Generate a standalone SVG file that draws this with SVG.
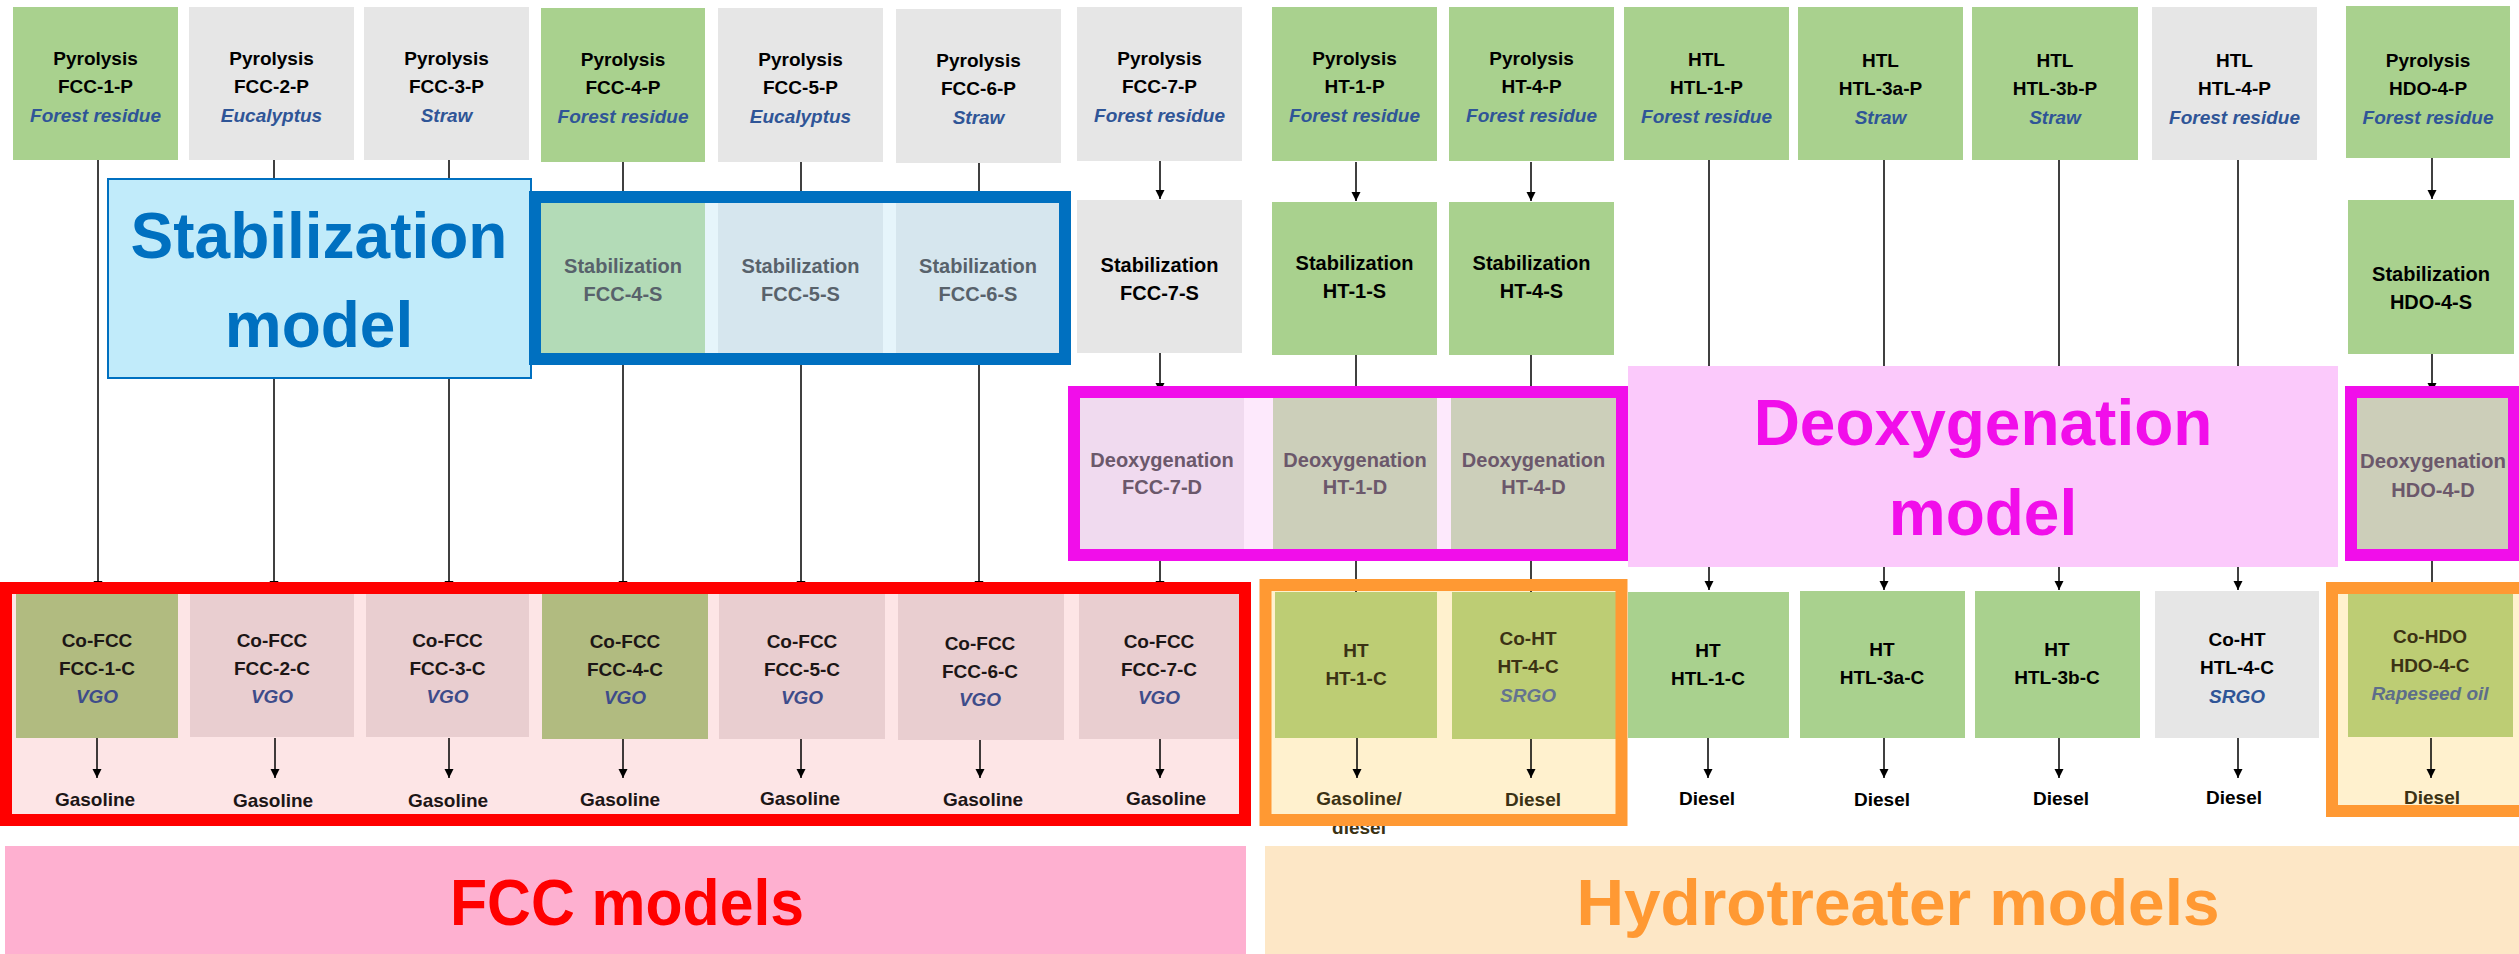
<svg xmlns="http://www.w3.org/2000/svg" width="2519" height="954" viewBox="0 0 2519 954">
<defs>
<marker id="ah" viewBox="0 0 10 10" refX="10" refY="5" markerWidth="9" markerHeight="10" markerUnits="userSpaceOnUse" orient="auto">
<path d="M0,0 L10,5 L0,10 z" fill="#000"/>
</marker>
<style>
text{font-family:"Liberation Sans",Arial,sans-serif;font-weight:bold;font-size:19px;text-anchor:middle;fill:#000}
.i{font-style:italic;fill:#2F5597}
.gn{fill:#A9D18E}
.gy{fill:#E6E6E6}
.m{font-size:20px}
.sg{fill:#58626B}
.dg{fill:#6B586B}
.rk{fill:#1C1616}
.vgo{font-style:italic;fill:#3E4C8A}
.ok{fill:#3B3214}
.ol{fill:#B1BB80}
.pk{fill:#E9CED0}
.ht{fill:#BDCD74}
.frame{fill:none;stroke-width:12}
.con line{stroke:#000;stroke-width:1.5}
.big{font-size:64px}
</style>
</defs>
<rect width="2519" height="954" fill="#FFFFFF"/>

<g id="banner-fcc">
<rect x="5" y="846" width="1241" height="108" fill="#FEB0D0"/>
<text x="627" y="925" style="font-size:64px;fill:#FF0000" textLength="354" lengthAdjust="spacingAndGlyphs">FCC models</text>
</g>
<g id="banner-ht">
<rect x="1265" y="846" width="1254" height="108" fill="#FDE7C6"/>
<text x="1898" y="925" style="font-size:64px;fill:#FF9933" textLength="643" lengthAdjust="spacingAndGlyphs">Hydrotreater models</text>
</g>

<g id="group-fills">
<rect x="535" y="197" width="530" height="162" fill="#E6F5FB"/>
<rect x="1074" y="392" width="548" height="163" fill="#FDE9FC"/>
<rect x="2351" y="392" width="163" height="163" fill="#FDE9FC"/>
<rect x="6" y="588" width="1239" height="232" fill="#FDE5E6"/>
<rect x="1265" y="585" width="356" height="235" fill="#FFF1CE"/>
<rect x="2332" y="588" width="193" height="223" fill="#FFF1CE"/>
</g>

<g id="connectors" class="con">
<line x1="98" y1="160" x2="98" y2="590" marker-end="url(#ah)"/>
<line x1="274" y1="160" x2="274" y2="590" marker-end="url(#ah)"/>
<line x1="449" y1="160" x2="449" y2="590" marker-end="url(#ah)"/>
<line x1="623" y1="162" x2="623" y2="590" marker-end="url(#ah)"/>
<line x1="801" y1="162" x2="801" y2="590" marker-end="url(#ah)"/>
<line x1="979" y1="163" x2="979" y2="590" marker-end="url(#ah)"/>
<line x1="1160" y1="161" x2="1160" y2="199" marker-end="url(#ah)"/>
<line x1="1160" y1="353" x2="1160" y2="392" marker-end="url(#ah)"/>
<line x1="1160" y1="549" x2="1160" y2="590" marker-end="url(#ah)"/>
<line x1="1356" y1="162" x2="1356" y2="201" marker-end="url(#ah)"/>
<line x1="1356" y1="355" x2="1356" y2="398"/>
<line x1="1356" y1="549" x2="1356" y2="592"/>
<line x1="1531" y1="162" x2="1531" y2="201" marker-end="url(#ah)"/>
<line x1="1531" y1="355" x2="1531" y2="398"/>
<line x1="1531" y1="549" x2="1531" y2="592"/>
<line x1="1709" y1="160" x2="1709" y2="590" marker-end="url(#ah)"/>
<line x1="1884" y1="160" x2="1884" y2="590" marker-end="url(#ah)"/>
<line x1="2059" y1="160" x2="2059" y2="590" marker-end="url(#ah)"/>
<line x1="2238" y1="160" x2="2238" y2="590" marker-end="url(#ah)"/>
<line x1="2432" y1="158" x2="2432" y2="199" marker-end="url(#ah)"/>
<line x1="2432" y1="354" x2="2432" y2="392" marker-end="url(#ah)"/>
<line x1="2432" y1="549" x2="2432" y2="594"/>
<line x1="97" y1="738" x2="97" y2="778" marker-end="url(#ah)"/>
<line x1="275" y1="738" x2="275" y2="778" marker-end="url(#ah)"/>
<line x1="449" y1="738" x2="449" y2="778" marker-end="url(#ah)"/>
<line x1="623" y1="738" x2="623" y2="778" marker-end="url(#ah)"/>
<line x1="801" y1="738" x2="801" y2="778" marker-end="url(#ah)"/>
<line x1="980" y1="738" x2="980" y2="778" marker-end="url(#ah)"/>
<line x1="1160" y1="738" x2="1160" y2="778" marker-end="url(#ah)"/>
<line x1="1357" y1="738" x2="1357" y2="778" marker-end="url(#ah)"/>
<line x1="1531" y1="738" x2="1531" y2="778" marker-end="url(#ah)"/>
<line x1="1708" y1="738" x2="1708" y2="778" marker-end="url(#ah)"/>
<line x1="1884" y1="738" x2="1884" y2="778" marker-end="url(#ah)"/>
<line x1="2059" y1="738" x2="2059" y2="778" marker-end="url(#ah)"/>
<line x1="2238" y1="738" x2="2238" y2="778" marker-end="url(#ah)"/>
<line x1="2431" y1="738" x2="2431" y2="778" marker-end="url(#ah)"/>
</g>

<g id="fcc-1-p"><rect class="gn" x="13" y="7" width="165" height="153"/><text x="95.5" y="65">Pyrolysis</text><text x="95.5" y="93">FCC-1-P</text><text class="i" x="95.5" y="122">Forest residue</text></g>
<g id="fcc-2-p"><rect class="gy" x="189" y="7" width="165" height="153"/><text x="271.5" y="65">Pyrolysis</text><text x="271.5" y="93">FCC-2-P</text><text class="i" x="271.5" y="122">Eucalyptus</text></g>
<g id="fcc-3-p"><rect class="gy" x="364" y="7" width="165" height="153"/><text x="446.5" y="65">Pyrolysis</text><text x="446.5" y="93">FCC-3-P</text><text class="i" x="446.5" y="122">Straw</text></g>
<g id="fcc-4-p"><rect class="gn" x="541" y="8" width="164" height="154"/><text x="623" y="66">Pyrolysis</text><text x="623" y="94">FCC-4-P</text><text class="i" x="623" y="123">Forest residue</text></g>
<g id="fcc-5-p"><rect class="gy" x="718" y="8" width="165" height="154"/><text x="800.5" y="66">Pyrolysis</text><text x="800.5" y="94">FCC-5-P</text><text class="i" x="800.5" y="123">Eucalyptus</text></g>
<g id="fcc-6-p"><rect class="gy" x="896" y="9" width="165" height="154"/><text x="978.5" y="67">Pyrolysis</text><text x="978.5" y="95">FCC-6-P</text><text class="i" x="978.5" y="124">Straw</text></g>
<g id="fcc-7-p"><rect class="gy" x="1077" y="7" width="165" height="154"/><text x="1159.5" y="65">Pyrolysis</text><text x="1159.5" y="93">FCC-7-P</text><text class="i" x="1159.5" y="122">Forest residue</text></g>
<g id="ht-1-p"><rect class="gn" x="1272" y="7" width="165" height="154"/><text x="1354.5" y="65">Pyrolysis</text><text x="1354.5" y="93">HT-1-P</text><text class="i" x="1354.5" y="122">Forest residue</text></g>
<g id="ht-4-p"><rect class="gn" x="1449" y="7" width="165" height="154"/><text x="1531.5" y="65">Pyrolysis</text><text x="1531.5" y="93">HT-4-P</text><text class="i" x="1531.5" y="122">Forest residue</text></g>
<g id="htl-1-p"><rect class="gn" x="1624" y="7" width="165" height="153"/><text x="1706.5" y="66">HTL</text><text x="1706.5" y="94">HTL-1-P</text><text class="i" x="1706.5" y="123">Forest residue</text></g>
<g id="htl-3a-p"><rect class="gn" x="1798" y="7" width="165" height="153"/><text x="1880.5" y="67">HTL</text><text x="1880.5" y="95">HTL-3a-P</text><text class="i" x="1880.5" y="124">Straw</text></g>
<g id="htl-3b-p"><rect class="gn" x="1972" y="7" width="166" height="153"/><text x="2055" y="67">HTL</text><text x="2055" y="95">HTL-3b-P</text><text class="i" x="2055" y="124">Straw</text></g>
<g id="htl-4-p"><rect class="gy" x="2152" y="7" width="165" height="153"/><text x="2234.5" y="67">HTL</text><text x="2234.5" y="95">HTL-4-P</text><text class="i" x="2234.5" y="124">Forest residue</text></g>
<g id="hdo-4-p"><rect class="gn" x="2346" y="6" width="164" height="152"/><text x="2428" y="67">Pyrolysis</text><text x="2428" y="95">HDO-4-P</text><text class="i" x="2428" y="124">Forest residue</text></g>

<g id="fcc-4-s"><rect x="541" y="202" width="164" height="151" fill="#B3DBB7"/><text class="m sg" x="623" y="273">Stabilization</text><text class="m sg" x="623" y="301">FCC-4-S</text></g>
<g id="fcc-5-s"><rect x="718" y="202" width="165" height="151" fill="#D6E6EE"/><text class="m sg" x="800.5" y="273">Stabilization</text><text class="m sg" x="800.5" y="301">FCC-5-S</text></g>
<g id="fcc-6-s"><rect x="896" y="202" width="164" height="151" fill="#D6E6EE"/><text class="m sg" x="978" y="273">Stabilization</text><text class="m sg" x="978" y="301">FCC-6-S</text></g>
<g id="fcc-7-s"><rect class="gy" x="1077" y="200" width="165" height="153"/><text class="m" x="1159.5" y="272">Stabilization</text><text class="m" x="1159.5" y="300">FCC-7-S</text></g>
<g id="ht-1-s"><rect class="gn" x="1272" y="202" width="165" height="153"/><text class="m" x="1354.5" y="270">Stabilization</text><text class="m" x="1354.5" y="298">HT-1-S</text></g>
<g id="ht-4-s"><rect class="gn" x="1449" y="202" width="165" height="153"/><text class="m" x="1531.5" y="270">Stabilization</text><text class="m" x="1531.5" y="298">HT-4-S</text></g>
<g id="hdo-4-s"><rect class="gn" x="2348" y="200" width="166" height="154"/><text class="m" x="2431" y="281">Stabilization</text><text class="m" x="2431" y="309">HDO-4-S</text></g>

<g id="fcc-7-d"><rect x="1080" y="398" width="164" height="151" fill="#F0DAEF"/><text class="m dg" x="1162" y="467">Deoxygenation</text><text class="m dg" x="1162" y="494">FCC-7-D</text></g>
<g id="ht-1-d"><rect x="1273" y="398" width="164" height="151" fill="#CCCFBA"/><text class="m dg" x="1355" y="467">Deoxygenation</text><text class="m dg" x="1355" y="494">HT-1-D</text></g>
<g id="ht-4-d"><rect x="1451" y="398" width="165" height="151" fill="#CCCFBA"/><text class="m dg" x="1533.5" y="467">Deoxygenation</text><text class="m dg" x="1533.5" y="494">HT-4-D</text></g>
<g id="hdo-4-d"><rect x="2357" y="398" width="152" height="151" fill="#CCCEB9"/><text class="m dg" x="2433" y="468" textLength="146" lengthAdjust="spacingAndGlyphs">Deoxygenation</text><text class="m dg" x="2433" y="497">HDO-4-D</text></g>

<g id="fcc-1-c"><rect class="ol" x="16" y="594" width="162" height="144"/><text class="rk" x="97" y="647">Co-FCC</text><text class="rk" x="97" y="675">FCC-1-C</text><text class="vgo" x="97" y="703">VGO</text></g>
<g id="fcc-2-c"><rect class="pk" x="190" y="594" width="164" height="143"/><text class="rk" x="272" y="647">Co-FCC</text><text class="rk" x="272" y="675">FCC-2-C</text><text class="vgo" x="272" y="703">VGO</text></g>
<g id="fcc-3-c"><rect class="pk" x="366" y="594" width="163" height="143"/><text class="rk" x="447.5" y="647">Co-FCC</text><text class="rk" x="447.5" y="675">FCC-3-C</text><text class="vgo" x="447.5" y="703">VGO</text></g>
<g id="fcc-4-c"><rect class="ol" x="542" y="594" width="166" height="145"/><text class="rk" x="625" y="648">Co-FCC</text><text class="rk" x="625" y="676">FCC-4-C</text><text class="vgo" x="625" y="704">VGO</text></g>
<g id="fcc-5-c"><rect class="pk" x="719" y="594" width="166" height="145"/><text class="rk" x="802" y="648">Co-FCC</text><text class="rk" x="802" y="676">FCC-5-C</text><text class="vgo" x="802" y="704">VGO</text></g>
<g id="fcc-6-c"><rect class="pk" x="898" y="594" width="166" height="146"/><text class="rk" x="980" y="650">Co-FCC</text><text class="rk" x="980" y="678">FCC-6-C</text><text class="vgo" x="980" y="706">VGO</text></g>
<g id="fcc-7-c"><rect class="pk" x="1079" y="594" width="160" height="145"/><text class="rk" x="1159" y="648">Co-FCC</text><text class="rk" x="1159" y="676">FCC-7-C</text><text class="vgo" x="1159" y="704">VGO</text></g>
<g id="ht-1-c"><rect class="ht" x="1275" y="592" width="162" height="146"/><text class="ok" x="1356" y="657">HT</text><text class="ok" x="1356" y="685">HT-1-C</text></g>
<g id="ht-4-c"><rect class="ht" x="1452" y="592" width="164" height="147"/><text class="ok" x="1528" y="645">Co-HT</text><text class="ok" x="1528" y="673">HT-4-C</text><text x="1528" y="702" style="font-style:italic;fill:#647390">SRGO</text></g>
<g id="htl-1-c"><rect class="gn" x="1628" y="592" width="161" height="146"/><text x="1708" y="657">HT</text><text x="1708" y="685">HTL-1-C</text></g>
<g id="htl-3a-c"><rect class="gn" x="1800" y="591" width="165" height="147"/><text x="1882" y="656">HT</text><text x="1882" y="684">HTL-3a-C</text></g>
<g id="htl-3b-c"><rect class="gn" x="1975" y="591" width="165" height="147"/><text x="2057" y="656">HT</text><text x="2057" y="684">HTL-3b-C</text></g>
<g id="htl-4-c"><rect class="gy" x="2155" y="591" width="164" height="147"/><text x="2237" y="646">Co-HT</text><text x="2237" y="674">HTL-4-C</text><text class="i" x="2237" y="703">SRGO</text></g>
<g id="hdo-4-c"><rect class="ht" x="2348" y="594" width="165" height="143"/><text class="ok" x="2430" y="643">Co-HDO</text><text class="ok" x="2430" y="672">HDO-4-C</text><text x="2430" y="700" style="font-style:italic;fill:#5D6D8A">Rapeseed oil</text></g>

<g id="products">
<text class="rk" x="95" y="806">Gasoline</text>
<text class="rk" x="273" y="807">Gasoline</text>
<text class="rk" x="448" y="807">Gasoline</text>
<text class="rk" x="620" y="806">Gasoline</text>
<text class="rk" x="800" y="805">Gasoline</text>
<text class="rk" x="983" y="806">Gasoline</text>
<text class="rk" x="1166" y="805">Gasoline</text>
<text class="ok" x="1359" y="805">Gasoline/</text>
<text class="ok" x="1359" y="834">diesel</text>
<text class="ok" x="1533" y="806">Diesel</text>
<text x="1707" y="805">Diesel</text>
<text x="1882" y="806">Diesel</text>
<text x="2061" y="805">Diesel</text>
<text x="2234" y="804">Diesel</text>
<text class="ok" x="2432" y="804">Diesel</text>
</g>

<g id="stabilization-model">
<rect x="108" y="179" width="423" height="199" fill="#C1EBFA" stroke="#0070C0" stroke-width="2"/>
<text class="big" x="319" y="258" style="fill:#0070C0">Stabilization</text>
<text class="big" x="319" y="347" style="fill:#0070C0">model</text>
</g>
<g id="deoxygenation-model">
<rect x="1628" y="366" width="710" height="201" fill="#FBC9FB"/>
<text class="big" x="1983" y="445" style="fill:#F10EEA">Deoxygenation</text>
<text class="big" x="1983" y="535" style="fill:#F10EEA">model</text>
</g>

<g id="frames">
<rect class="frame" x="535" y="197" width="530" height="162" stroke="#0070C0"/>
<rect class="frame" x="1074" y="392" width="548" height="163" stroke="#F10EEA"/>
<rect class="frame" x="2351" y="392" width="163" height="163" stroke="#F10EEA"/>
<rect class="frame" x="6" y="588" width="1239" height="232" stroke="#FF0000"/>
<rect class="frame" x="1265.5" y="585" width="356" height="235" stroke="#FF9933"/>
<rect class="frame" x="2332" y="588" width="193" height="223" stroke="#FF9933"/>
</g>
</svg>
